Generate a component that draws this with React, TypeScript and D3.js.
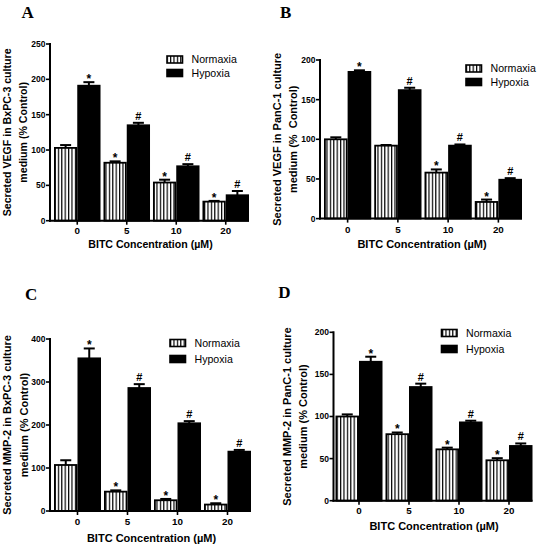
import React from "react";
import * as d3 from "d3";

// ---------- data ----------
const concentrations = ["0", "5", "10", "20"];
const seriesNames = ["Normaxia", "Hypoxia"];

// Panel A: VEGF, BxPC-3
const vegfBxNorm = [103, 82, 54, 27];
const vegfBxNormErr = [4, 2, 4, 1];
const vegfBxHyp = [191, 135, 77, 36];
const vegfBxHypErr = [5, 3.5, 3, 6];
const vegfBxNormMarks = ["", "*", "*", "*"];
const vegfBxHypMarks = ["*", "#", "#", "#"];

// Panel B: VEGF, PanC-1
const vegfPanNorm = [100, 92, 58, 21];
const vegfPanNormErr = [2.5, 0.8, 4, 3];
const vegfPanHyp = [185, 162, 92, 49];
const vegfPanHypErr = [2, 3, 1.5, 2];
const vegfPanNormMarks = ["", "", "*", "*"];
const vegfPanHypMarks = ["*", "#", "#", "#"];

// Panel C: MMP-2, BxPC-3
const mmpBxNorm = [107, 45, 25, 15];
const mmpBxNormErr = [11, 3, 3, 3];
const mmpBxHyp = [355, 286, 204, 138];
const mmpBxHypErr = [23, 9, 5, 4];
const mmpBxNormMarks = ["", "*", "*", "*"];
const mmpBxHypMarks = ["*", "#", "#", "#"];

// Panel D: MMP-2, PanC-1
const mmpPanNorm = [100, 79, 61, 48];
const mmpPanNormErr = [2.5, 2, 2, 2.5];
const mmpPanHyp = [165, 135, 93, 65];
const mmpPanHypErr = [6, 4, 2, 3];
const mmpPanNormMarks = ["", "*", "*", "*"];
const mmpPanHypMarks = ["*", "#", "#", "#"];

const yTicksA = [0, 50, 100, 150, 200, 250];
const yTicksB = [0, 50, 100, 150, 200];
const yTicksC = [0, 100, 200, 300, 400];
const yTicksD = [0, 50, 100, 150, 200];

const xTitle = "BITC Concentration (µM)";

// ---------- layout ----------
const panels = [
  {
    letter: "A", lx: 21.5, ly: 17.5,
    norm: vegfBxNorm, normErr: vegfBxNormErr, hyp: vegfBxHyp, hypErr: vegfBxHypErr,
    normMarks: vegfBxNormMarks, hypMarks: vegfBxHypMarks,
    ticks: yTicksA, yMax: 250,
    ax: 50, axEnd: 249, y0: 220.7, yTop: 44, startOff: 4,
    ylab: ["Secreted VEGF in BxPC-3 culture", "medium (% Control)"],
    ylx: [7, 23], labFont: 10.6,
    legX: 167, legY: 59.5, legGap: 13.5,
    xtY: 248, tickOff: 13,
  },
  {
    letter: "B", lx: 280, ly: 18.3,
    norm: vegfPanNorm, normErr: vegfPanNormErr, hyp: vegfPanHyp, hypErr: vegfPanHypErr,
    normMarks: vegfPanNormMarks, hypMarks: vegfPanHypMarks,
    ticks: yTicksB, yMax: 200,
    ax: 320, axEnd: 522, y0: 218.6, yTop: 60, startOff: 4,
    ylab: ["Secreted VEGF in PanC-1 culture", "medium (%  Control)"],
    ylx: [277.5, 293.5], labFont: 11,
    legX: 466, legY: 68.5, legGap: 13.5,
    xtY: 247.5, tickOff: 14,
  },
  {
    letter: "C", lx: 25, ly: 300,
    norm: mmpBxNorm, normErr: mmpBxNormErr, hyp: mmpBxHyp, hypErr: mmpBxHypErr,
    normMarks: mmpBxNormMarks, hypMarks: mmpBxHypMarks,
    ticks: yTicksC, yMax: 400,
    ax: 50, axEnd: 251, y0: 511, yTop: 339, startOff: 4,
    ylab: ["Secreted MMP-2 in BxPC-3 culture", "medium (% Control)"],
    ylx: [7.5, 24], labFont: 11,
    legX: 170, legY: 343, legGap: 16,
    xtY: 541.5, tickOff: 14,
  },
  {
    letter: "D", lx: 278.3, ly: 298.3,
    norm: mmpPanNorm, normErr: mmpPanNormErr, hyp: mmpPanHyp, hypErr: mmpPanHypErr,
    normMarks: mmpPanNormMarks, hypMarks: mmpPanHypMarks,
    ticks: yTicksD, yMax: 200,
    ax: 333.5, axEnd: 532.5, y0: 500.7, yTop: 332.3, startOff: 2,
    ylab: ["Secreted MMP-2 in PanC-1 culture", "medium (% Control)"],
    ylx: [287.5, 303.5], labFont: 11,
    legX: 441.5, legY: 333, legGap: 16,
    xtY: 529.5, tickOff: 13,
  },
];

const SANS = "'Liberation Sans', Arial, Helvetica, sans-serif";
const SERIF = "'Liberation Serif', 'Times New Roman', serif";

function Panel({ p }: { p: any }) {
  const y = d3.scaleLinear().domain([0, p.yMax]).range([p.y0, p.yTop]);
  const x = d3
    .scaleBand<string>()
    .domain(concentrations)
    .range([p.ax + p.startOff, p.axEnd])
    .paddingInner(0.06)
    .paddingOuter(0);
  const sub = d3
    .scaleBand<string>()
    .domain(seriesNames)
    .range([0, x.bandwidth()])
    .padding(0);
  const bw = sub.bandwidth();
  const midY = (p.y0 + p.yTop) / 2;
  const midX = (p.ax + p.axEnd) / 2 + 1;

  const series = [
    { name: seriesNames[0], vals: p.norm, errs: p.normErr, marks: p.normMarks, fill: "url(#stripes)" },
    { name: seriesNames[1], vals: p.hyp, errs: p.hypErr, marks: p.hypMarks, fill: "#000" },
  ];

  return (
    <g>
      <text x={p.lx} y={p.ly} fontFamily={SERIF} fontWeight="bold" fontSize={17}>
        {p.letter}
      </text>
      {/* bars */}
      {series.map((s) =>
        concentrations.map((c, i) => {
          const bx = (x(c) as number) + (sub(s.name) as number);
          const top = y(s.vals[i]);
          const cx = bx + bw / 2;
          const ey = y(s.vals[i] + s.errs[i]);
          const mark = s.marks[i];
          return (
            <g key={s.name + c}>
              <line x1={cx} x2={cx} y1={top} y2={ey} stroke="#000" strokeWidth={2} />
              <line x1={cx - 5.5} x2={cx + 5.5} y1={ey} y2={ey} stroke="#000" strokeWidth={2} />
              <rect
                x={bx + 0.9}
                y={top}
                width={bw - 1.8}
                height={p.y0 - top}
                fill={s.fill}
                stroke="#000"
                strokeWidth={1.8}
              />
              {mark && (
                <text
                  x={cx}
                  y={mark === "*" ? ey + 1 : ey - 3}
                  textAnchor="middle"
                  fontFamily={SANS}
                  fontWeight="bold"
                  fontSize={mark === "*" ? 12 : 11}
                >
                  {mark}
                </text>
              )}
            </g>
          );
        })
      )}
      {/* y axis */}
      <line x1={p.ax} x2={p.ax} y1={p.yTop - 1} y2={p.y0 + 1} stroke="#000" strokeWidth={2} />
      {p.ticks.map((t: number) => (
        <g key={"yt" + t}>
          <line x1={p.ax - 4} x2={p.ax} y1={y(t)} y2={y(t)} stroke="#000" strokeWidth={1.6} />
          <text
            x={p.ax - 4.5}
            y={y(t)}
            dy="0.35em"
            textAnchor="end"
            fontFamily={SANS}
            fontWeight="bold"
            fontSize={8.5}
          >
            {t}
          </text>
        </g>
      ))}
      {/* x axis */}
      <line x1={p.ax - 1} x2={p.axEnd} y1={p.y0} y2={p.y0} stroke="#000" strokeWidth={2} />
      {concentrations.map((c) => {
        const cx = (x(c) as number) + x.bandwidth() / 2;
        return (
          <g key={"xt" + c}>
            <line x1={cx} x2={cx} y1={p.y0} y2={p.y0 + 4} stroke="#000" strokeWidth={1.6} />
            <text
              x={cx}
              y={p.y0 + p.tickOff}
              textAnchor="middle"
              fontFamily={SANS}
              fontWeight="bold"
              fontSize={9.8}
            >
              {c}
            </text>
          </g>
        );
      })}
      <text
        x={midX}
        y={p.xtY}
        textAnchor="middle"
        fontFamily={SANS}
        fontWeight="bold"
        fontSize={p.labFont}
      >
        {xTitle}
      </text>
      {/* y title */}
      {p.ylab.map((line: string, k: number) => (
        <text
          key={"yl" + k}
          transform={`translate(${p.ylx[k]},${midY}) rotate(-90)`}
          dy="0.35em"
          textAnchor="middle"
          fontFamily={SANS}
          fontWeight="bold"
          fontSize={p.labFont}
          style={{ whiteSpace: "pre" }}
        >
          {line}
        </text>
      ))}
      {/* legend */}
      {series.map((s, k) => {
        const cy = p.legY + k * p.legGap;
        return (
          <g key={"lg" + k}>
            <rect
              x={p.legX}
              y={cy - 3.5}
              width={15.5}
              height={7}
              fill={s.fill}
              stroke="#000"
              strokeWidth={1.6}
            />
            <text
              x={p.legX + 24.5}
              y={cy}
              dy="0.35em"
              fontFamily={SANS}
              fontSize={10.6}
            >
              {s.name}
            </text>
          </g>
        );
      })}
    </g>
  );
}

export default function App() {
  return (
    <svg
      width={539}
      height={546}
      viewBox="0 0 539 546"
      style={{ position: "absolute", left: 0, top: 0, background: "#fff" }}
    >
      <defs>
        <pattern id="stripes" patternUnits="userSpaceOnUse" width={3.4} height={10}>
          <rect x={0} y={0} width={3.4} height={10} fill="#fff" />
          <rect x={0} y={0} width={1.2} height={10} fill="#000" />
        </pattern>
      </defs>
      <rect x={0} y={0} width={539} height={546} fill="#fff" />
      {panels.map((p) => (
        <Panel key={p.letter} p={p} />
      ))}
    </svg>
  );
}
